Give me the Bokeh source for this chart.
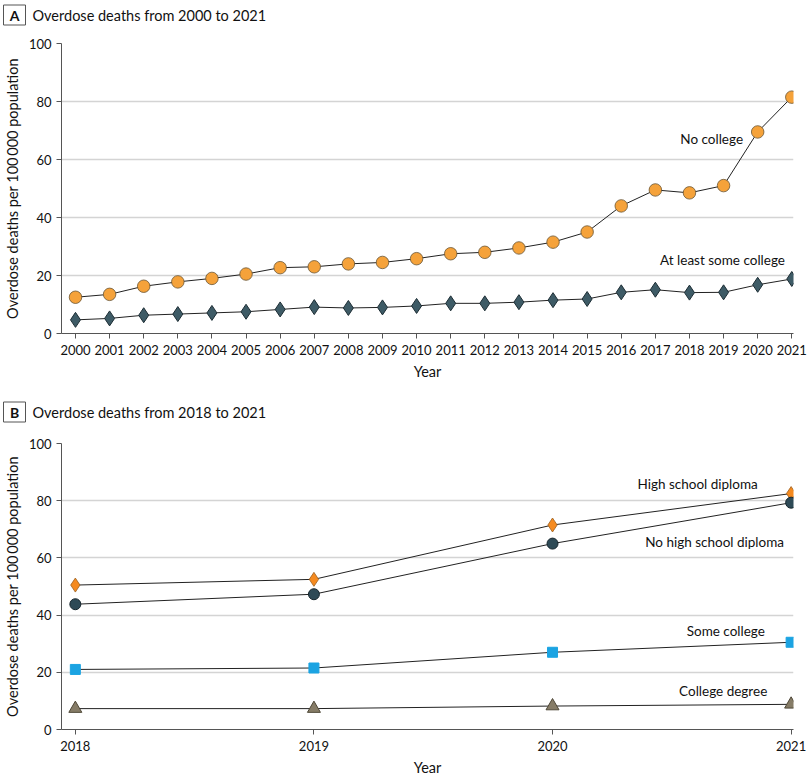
from bokeh.plotting import figure
from bokeh.layouts import column
from bokeh.models import Range1d, Label, FixedTicker
from bokeh.core.properties import value
from bokeh.embed import file_html
from bokeh.resources import INLINE

years_a = list(range(2000, 2022))
no_college = [12.5, 13.5, 16.3, 17.8, 19.0, 20.5, 22.7, 23.0, 24.0, 24.5, 25.8,
              27.5, 28.0, 29.5, 31.5, 35.0, 44.0, 49.5, 48.5, 51.0, 69.5, 81.5]
some_college_plus = [4.7, 5.2, 6.3, 6.7, 7.1, 7.5, 8.3, 9.1, 8.8, 9.0, 9.5,
                     10.4, 10.4, 10.8, 11.5, 11.9, 14.2, 15.1, 14.1, 14.2, 16.8, 18.8]

years_b = [2018, 2019, 2020, 2021]
hs_diploma = [50.5, 52.5, 71.5, 82.5]
no_hs_diploma = [43.8, 47.3, 65.0, 79.3]
some_college = [21.0, 21.5, 27.0, 30.5]
college_degree = [7.3, 7.3, 8.2, 8.8]

y_ticks = [0, 20, 40, 60, 80, 100]
FONT = "Lato"
YLAB = "Overdose deaths per 100\u2009000 population"


def style(p, xticks):
    p.xgrid.visible = False
    p.ygrid.grid_line_color = "#d4d4d4"
    p.ygrid.grid_line_width = 1.5
    p.yaxis.ticker = FixedTicker(ticks=y_ticks)
    p.xaxis.ticker = FixedTicker(ticks=xticks)
    for ax in (p.xaxis, p.yaxis):
        ax.axis_line_color = "#555555"
        ax.major_tick_line_color = "#555555"
        ax.major_tick_out = 5
        ax.major_tick_in = 0
        ax.minor_tick_line_color = None
        ax.major_label_text_font = FONT
        ax.major_label_text_font_size = "13px"
        ax.major_label_text_color = "#111111"
        ax.axis_label_text_font = FONT
        ax.axis_label_text_font_size = "14.5px"
        ax.axis_label_text_font_style = "normal"
        ax.axis_label_text_color = "#111111"
    p.xaxis.axis_label = "Year"
    p.yaxis.axis_label = YLAB
    p.outline_line_color = None
    p.xaxis.major_label_standoff = 6


def title_fig(letter, text, h, cy):
    t = figure(width=809, height=h, output_backend="svg", toolbar_location=None,
               x_range=Range1d(0, 809), y_range=Range1d(h, 0),
               x_axis_location=None, y_axis_location=None, frame_align=False,
               min_border=0, min_border_left=0, min_border_right=0,
               min_border_top=0, min_border_bottom=0)
    t.grid.visible = False
    t.outline_line_color = None
    t.rect(x=[14], y=[cy], width=22, height=20, fill_color="white",
           line_color="#555555", line_width=1)
    t.text(x=[14], y=[cy], text=[letter], text_font=value(FONT), text_font_size="14px",
           text_font_style="bold", text_align="center", text_baseline="middle",
           text_color="#111111")
    t.text(x=[32], y=[cy], text=[text], text_font=value(FONT), text_font_size="14.5px",
           text_align="left", text_baseline="middle", text_color="#111111")
    return t


def note(p, x, y, t):
    p.add_layout(Label(x=x, y=y, text=t, text_font=FONT, text_font_size="13.5px",
                       text_align="right", text_baseline="middle", text_color="#111111"))


# Panel A
ta = title_fig("A", "Overdose deaths from 2000 to 2021", 30, 14.5)
pa = figure(width=809, height=360, output_backend="svg", toolbar_location=None,
            x_range=Range1d(1999.59, 2021.05), y_range=Range1d(0, 100),
            min_border_left=57, min_border_right=16, min_border_top=13, min_border_bottom=57)
style(pa, years_a)
pa.line(years_a, no_college, line_color="#222222", line_width=1)
pa.line(years_a, some_college_plus, line_color="#222222", line_width=1)
pa.scatter(years_a, no_college, marker="circle", size=12.5, fill_color="#F5A23A",
           line_color="#6a5535", line_width=0.8)
pa.scatter(years_a, some_college_plus, marker="diamond", size=15, fill_color="#3E5B66",
           line_color="#1e2e35", line_width=1)
note(pa, 2019.57, 67, "No college")
note(pa, 2020.8, 25.2, "At least some college")

# Panel B
tb = title_fig("B", "Overdose deaths from 2018 to 2021", 40, 21.5)
pb = figure(width=809, height=348, output_backend="svg", toolbar_location=None,
            x_range=Range1d(2017.942, 2021.01), y_range=Range1d(0, 100),
            min_border_left=57, min_border_right=16, min_border_top=13, min_border_bottom=46)
style(pb, years_b)
for ys in (hs_diploma, no_hs_diploma, some_college, college_degree):
    pb.line(years_b, ys, line_color="#222222", line_width=1)
pb.scatter(years_b, hs_diploma, marker="diamond", size=14, fill_color="#F58A1F",
           line_color="#9a6020", line_width=0.8)
pb.scatter(years_b, no_hs_diploma, marker="circle", size=11, fill_color="#2E4A56",
           line_color="#17262d", line_width=1)
pb.scatter(years_b, some_college, marker="square", size=10, fill_color="#1BA3E2",
           line_color="#1BA3E2", line_width=1)
pb.scatter(years_b, college_degree, marker="triangle", size=13, fill_color="#867C67",
           line_color="#4f4838", line_width=1)
note(pb, 2020.86, 85.8, "High school diploma")
note(pb, 2020.97, 65.7, "No high school diploma")
note(pb, 2020.89, 34.6, "Some college")
note(pb, 2020.90, 13.5, "College degree")

layout = column(ta, pa, tb, pb, spacing=0)
open("out.html", "w").write(file_html(layout, INLINE))
